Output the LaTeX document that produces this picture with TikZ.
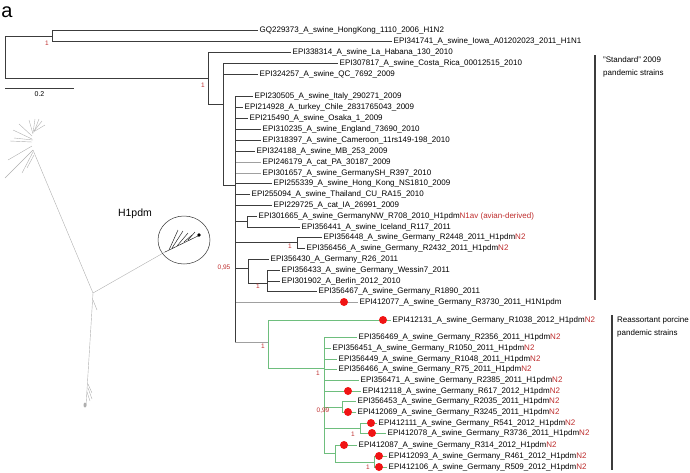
\documentclass[tikz,border=0pt]{standalone}
\usepackage{fontspec}
\setmainfont{Liberation Sans}
\usetikzlibrary{positioning,calc}

\definecolor{suppred}{RGB}{190,45,45}
\definecolor{dotred}{RGB}{240,20,20}
\definecolor{treeblack}{RGB}{60,60,60}
\definecolor{treegray}{RGB}{160,160,160}
\definecolor{cladegreen}{RGB}{110,190,125}
\definecolor{netgray}{RGB}{175,175,175}

\newcommand{\redN}[1]{\textcolor{suppred}{#1}}

\tikzset{
  tip/.style={anchor=west, inner sep=1.5pt, text height=5.6pt, text depth=0.4pt, font=\fontsize{8}{9}\selectfont},
  supp/.style={inner sep=0pt, text=suppred, font=\fontsize{6.5}{7}\selectfont},
  branch/.style={line width=0.6pt},
  mutdot/.style={circle, fill=dotred, inner sep=0pt, minimum size=8pt},
  brtext/.style={anchor=north west, align=left, inner sep=0pt, font=\fontsize{8}{13}\selectfont},
  bracket/.style={line width=1.1pt, draw=treeblack},
  net/.style={draw=netgray, line width=0.4pt},
}

\begin{document}
\begin{tikzpicture}[x=1pt, y=-1pt]
    \useasboundingbox (0,0) rectangle (690,472);

    % Panel letter
    \node[font=\fontsize{20}{20}\selectfont, inner sep=0pt] (panel) at (7,12) {a};

    % Internal nodes of the tree
    \coordinate (root) at (5,57);
    \coordinate (n52)  at (52,36);
    \coordinate (n208) at (208,78);
    \coordinate (n223) at (223,104);
    \coordinate (n235) at (235,185);
    \coordinate (n247) at (247,221);
    \coordinate (n297) at (297,242);
    \coordinate (n248) at (248,268);
    \coordinate (n267) at (267,283);
    \coordinate (n268) at (268,342);
    \coordinate (n324) at (324,368);
    \coordinate (n342) at (342,407);
    \coordinate (n360) at (360,428);
    \coordinate (n335) at (335,453);
    \coordinate (n374) at (374,462);

    % Tips: number/parent/line end/y/colour/dot x/label
    \foreach \nm/\up/\xe/\yy/\col/\dx/\txt in {
      1/n52/258/30/treeblack/0/{GQ229373\_A\_swine\_HongKong\_1110\_2006\_H1N2},
      2/n52/392/41/treeblack/0/{EPI341741\_A\_swine\_Iowa\_A01202023\_2011\_H1N1},
      3/n208/291/52/treeblack/0/{EPI338314\_A\_swine\_La\_Habana\_130\_2010},
      4/n223/338/63/treeblack/0/{EPI307817\_A\_swine\_Costa\_Rica\_00012515\_2010},
      5/n223/258/74/treeblack/0/{EPI324257\_A\_swine\_QC\_7692\_2009},
      6/n235/253/96/treeblack/0/{EPI230505\_A\_swine\_Italy\_290271\_2009},
      7/n235/243/107/treeblack/0/{EPI214928\_A\_turkey\_Chile\_2831765043\_2009},
      8/n235/248/118/treeblack/0/{EPI215490\_A\_swine\_Osaka\_1\_2009},
      9/n235/261/129/treeblack/0/{EPI310235\_A\_swine\_England\_73690\_2010},
      10/n235/261/140/treeblack/0/{EPI318397\_A\_swine\_Cameroon\_11rs149-198\_2010},
      11/n235/255/151/treeblack/0/{EPI324188\_A\_swine\_MB\_253\_2009},
      12/n235/261/162/treegray/0/{EPI246179\_A\_cat\_PA\_30187\_2009},
      13/n235/261/173/treegray/0/{EPI301657\_A\_swine\_GermanySH\_R397\_2010},
      14/n235/272/183/treeblack/0/{EPI255339\_A\_swine\_Hong\_Kong\_NS1810\_2009},
      15/n235/250/194/treeblack/0/{EPI255094\_A\_swine\_Thailand\_CU\_RA15\_2010},
      16/n235/272/205/treeblack/0/{EPI229725\_A\_cat\_IA\_26991\_2009},
      17/n247/257/216/treeblack/0/{EPI301665\_A\_swine\_GermanyNW\_R708\_2010\_H1pdm\redN{N1av (avian-derived)}},
      18/n247/300/227/treeblack/0/{EPI356441\_A\_swine\_Iceland\_R117\_2011},
      19/n297/322/237/treeblack/0/{EPI356448\_A\_swine\_Germany\_R2448\_2011\_H1pdm\redN{N2}},
      20/n297/305/248/treeblack/0/{EPI356456\_A\_swine\_Germany\_R2432\_2011\_H1pdm\redN{N2}},
      21/n248/269/259/treeblack/0/{EPI356430\_A\_Germany\_R26\_2011},
      22/n267/280/270/treeblack/0/{EPI356433\_A\_swine\_Germany\_Wessin7\_2011},
      23/n267/280/281/treeblack/0/{EPI301902\_A\_Berlin\_2012\_2010},
      24/n267/317/291/treeblack/0/{EPI356467\_A\_swine\_Germany\_R1890\_2011},
      25/n235/358/302/treegray/344/{EPI412077\_A\_swine\_Germany\_R3730\_2011\_H1N1pdm},
      26/n268/391/320/cladegreen/383/{EPI412131\_A\_swine\_Germany\_R1038\_2012\_H1pdm\redN{N2}},
      27/n324/357/337/cladegreen/0/{EPI356469\_A\_swine\_Germany\_R2356\_2011\_H1pdm\redN{N2}},
      28/n324/331/348/cladegreen/0/{EPI356451\_A\_swine\_Germany\_R1050\_2011\_H1pdm\redN{N2}},
      29/n324/337/359/cladegreen/0/{EPI356449\_A\_swine\_Germany\_R1048\_2011\_H1pdm\redN{N2}},
      30/n324/337/369/cladegreen/0/{EPI356466\_A\_swine\_Germany\_R75\_2011\_H1pdm\redN{N2}},
      31/n324/359/380/cladegreen/0/{EPI356471\_A\_swine\_Germany\_R2385\_2011\_H1pdm\redN{N2}},
      32/n324/361/391/cladegreen/348/{EPI412118\_A\_swine\_Germany\_R617\_2012\_H1pdm\redN{N2}},
      33/n342/356/401/cladegreen/0/{EPI356453\_A\_swine\_Germany\_R2035\_2011\_H1pdm\redN{N2}},
      34/n342/356/412/cladegreen/348/{EPI412069\_A\_swine\_Germany\_R3245\_2011\_H1pdm\redN{N2}},
      35/n360/377/423/cladegreen/371/{EPI412111\_A\_swine\_Germany\_R541\_2012\_H1pdm\redN{N2}},
      36/n360/386/433/cladegreen/372/{EPI412078\_A\_swine\_Germany\_R3736\_2011\_H1pdm\redN{N2}},
      37/n335/357/445/cladegreen/344/{EPI412087\_A\_swine\_Germany\_R314\_2012\_H1pdm\redN{N2}},
      38/n374/387/456/cladegreen/379/{EPI412093\_A\_swine\_Germany\_R461\_2012\_H1pdm\redN{N2}},
      39/n374/387/467/cladegreen/379/{EPI412106\_A\_swine\_Germany\_R509\_2012\_H1pdm\redN{N2}}%
    }{
      \node[tip] (t\nm) at (\xe,\yy) {\txt};
      \draw[branch, draw=\col] (\up |- t\nm.west) -- (t\nm.west);
      \ifnum\dx>0 \node[mutdot] (d\nm) at (\dx,\yy) {};\fi
    }

    % Vertical bars of the internal nodes
    \draw[branch, draw=treeblack] (root |- n52) -- (root |- n208);
    \draw[branch, draw=treeblack] (n52 |- t1.west) -- (n52 |- t2.west);
    \draw[branch, draw=treeblack] (n208 |- t3.west) -- (n208 |- n223);
    \draw[branch, draw=treeblack] (n223 |- t4.west) -- (n223 |- n235);
    \draw[branch, draw=treeblack] (n235 |- t6.west) -- (n235 |- n268);
    \draw[branch, draw=treeblack] (n247 |- t17.west) -- (n247 |- t18.west);
    \draw[branch, draw=treeblack] (n297 |- t19.west) -- (n297 |- t20.west);
    \draw[branch, draw=treeblack] (n248 |- t21.west) -- (n248 |- n267);
    \draw[branch, draw=treeblack] (n267 |- t22.west) -- (n267 |- t24.west);
    \draw[branch, draw=cladegreen] (n268 |- t26.west) -- (n268 |- n324);
    \draw[branch, draw=cladegreen] (n324 |- t27.west) -- (n324 |- n335);
    \draw[branch, draw=cladegreen] (n342 |- t33.west) -- (n342 |- t34.west);
    \draw[branch, draw=cladegreen] (n360 |- t35.west) -- (n360 |- t36.west);
    \draw[branch, draw=cladegreen] (n335 |- t37.west) -- (n335 |- n374);
    \draw[branch, draw=cladegreen] (n374 |- t38.west) -- (n374 |- t39.west);

    % Branches between internal nodes
    \draw[branch, draw=treeblack] (root |- n52) -- (n52);
    \draw[branch, draw=treeblack] (root |- n208) -- (n208);
    \draw[branch, draw=treeblack] (n208 |- n223) -- (n223);
    \draw[branch, draw=treeblack] (n223 |- n235) -- (n235);
    \draw[branch, draw=treeblack] (n235 |- n247) -- (n247);
    \draw[branch, draw=treeblack] (n235 |- n297) -- (n297);
    \draw[branch, draw=treeblack] (n235 |- n248) -- (n248);
    \draw[branch, draw=treeblack] (n248 |- n267) -- (n267);
    \draw[branch, draw=treegray] (n235 |- n268) -- (n268);
    \draw[branch, draw=cladegreen] (n268 |- n324) -- (n324);
    \draw[branch, draw=cladegreen] (n324 |- n342) -- (n342);
    \draw[branch, draw=cladegreen] (n324 |- n360) -- (n360);
    \draw[branch, draw=cladegreen] (n324 |- n335) -- (n335);
    \draw[branch, draw=cladegreen] (n335 |- n374) -- (n374);

    % Support values
    \node[supp] (s52)  at (47,43)  {1};
    \node[supp] (s208) at (203,85) {1};
    \node[supp] (s297) at (290,246) {1};
    \node[supp] (s248) at (224,268) {0,95};
    \node[supp] (s267) at (258,286) {1};
    \node[supp] (s268) at (263,346) {1};
    \node[supp] (s324) at (318,373) {1};
    \node[supp] (s342) at (323,411) {0,99};
    \node[supp] (s360) at (353,434) {1};
    \node[supp] (s374) at (368,467) {1};

    % Scale bar
    \coordinate (scaleA) at (5,88);
    \coordinate (scaleB) at (74,88);
    \draw[treeblack, line width=0.6pt] (scaleA) -- (scaleB);
    \node[font=\fontsize{7}{8}\selectfont, below=3pt of $(scaleA)!0.5!(scaleB)$, inner sep=0pt] (scalelbl) {0.2};

    % Clade brackets
    \coordinate (stdtop) at (595,55);
    \coordinate (stdbot) at (595,300);
    \draw[bracket] (stdtop) -- (stdbot);
    \node[brtext] (stdlbl) at (603,56) {"Standard" 2009\\pandemic strains};
    \coordinate (reatop) at (612,315);
    \coordinate (reabot) at (612,470);
    \draw[bracket] (reatop) -- (reabot);
    \node[brtext] (realbl) at (617,316) {Reassortant porcine\\pandemic strains};

    % Unrooted overview tree
    \coordinate (hub) at (93,293);
    \coordinate (hubtop) at (33,150);
    \draw[net] (hub) -- (hubtop);
    \draw[net] (hubtop) -- (5,178);
    \draw[net] (33,152) -- (22,173);
    \draw[net] (34,155) -- (27,168);
    \draw[net] (32,146) -- (8,160);
    \draw[net] (32,142) -- (10,141);
    \draw[net] (32,139) -- (13,130);
    \draw[net] (32,136) -- (19,124);
    \draw[net] (33,134) -- (29,120);
    \draw[net] (33,133) -- (35,119);
    \draw[net] (34,132) -- (39,119);
    \draw[net] (34,131) -- (42,121);
    \draw[net] (35,131) -- (45,125);
    \draw[net] (33,140) -- (14,138);
    \draw[net] (hub) -- (165,252);
    \draw[net] (hub) -- (86,406);
    \draw[net] (93,300) -- (97,310);
    \draw[net] (88,384) -- (92,393);
    \draw[net] (88,388) -- (92,399);
    \draw[net] (87,392) -- (90,401);
    \fill[netgray] (85,405) ellipse (1.5pt and 2.5pt);

    % Zoomed H1pdm lineage
    \draw[black!80, line width=0.5pt] (184,240) ellipse (26pt and 24pt);
    \node[font=\fontsize{10.5}{11}\selectfont, inner sep=0pt] (pdmlbl) at (135,214) {H1pdm};
    \draw[black!85, line width=0.5pt] (165,252) -- (200,235);
    \draw[black!85, line width=0.5pt] (169,250) -- (178,230);
    \draw[black!85, line width=0.5pt] (172,248) -- (183,231);
    \draw[black!85, line width=0.5pt] (177,246) -- (188,233);
    \draw[black!85, line width=0.5pt] (184,242) -- (192,235);
    \draw[black!85, line width=0.5pt] (188,240) -- (195,232);
    \fill[black] (199,235) circle (1.8pt);
\end{tikzpicture}
\end{document}
